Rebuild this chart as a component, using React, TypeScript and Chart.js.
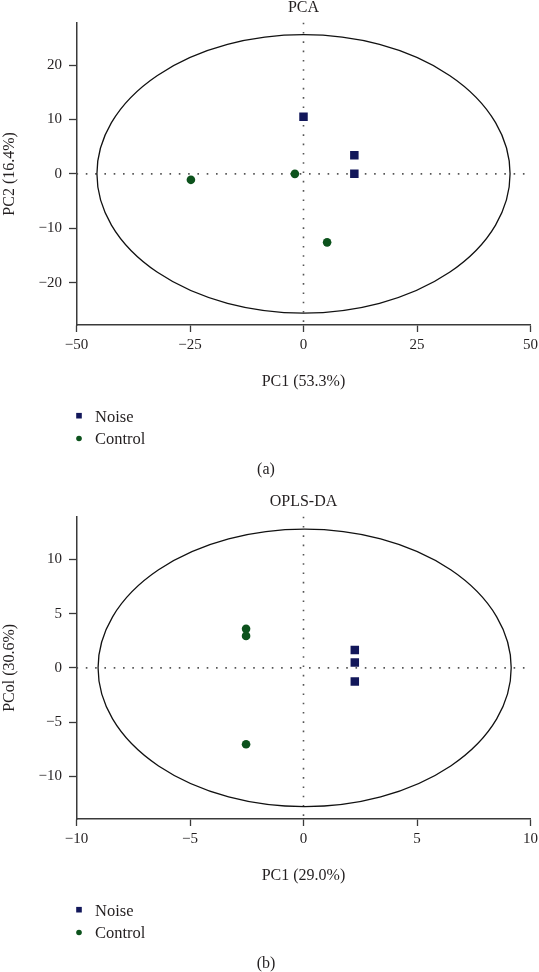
import React, { useEffect, useRef } from 'react';
import { Chart, registerables } from 'chart.js';

Chart.register(...registerables);

// ---------- data: panel (a) PCA ----------
const pcaTitle = 'PCA';
const pcaXLabel = 'PC1 (53.3%)';
const pcaYLabel = 'PC2 (16.4%)';
const pcaCaption = '(a)';
const pcaNoiseX = [0, 11.2, 11.2];
const pcaNoiseY = [10.5, 3.4, 0];
const pcaControlX = [-24.8, -1.9, 5.2];
const pcaControlY = [-1.1, 0, -12.6];
const pcaXMin = -50;
const pcaXMax = 50;
const pcaXStep = 25;
const pcaYMin = -27.8;
const pcaYMax = 27.8;
const pcaYStep = 10;
const pcaEllipseCenter = [0, 0];
const pcaEllipseRadii = [45.5, 25.6];

// ---------- data: panel (b) OPLS-DA ----------
const oplsTitle = 'OPLS-DA';
const oplsXLabel = 'PC1 (29.0%)';
const oplsYLabel = 'PCol (30.6%)';
const oplsCaption = '(b)';
const oplsNoiseX = [2.26, 2.26, 2.26];
const oplsNoiseY = [1.65, 0.49, -1.26];
const oplsControlX = [-2.53, -2.53, -2.53];
const oplsControlY = [3.6, 2.95, -7.05];
const oplsXMin = -10;
const oplsXMax = 10;
const oplsXStep = 5;
const oplsYMin = -13.95;
const oplsYMax = 13.95;
const oplsYStep = 5;
const oplsEllipseCenter = [0.05, 0];
const oplsEllipseRadii = [9.1, 12.8];

const seriesLabels = ['Noise', 'Control'];

// ---------- styles ----------
const FONT = "'Liberation Serif', 'Times New Roman', serif";
const TEXT = '#231f20';
const AXIS = '#3a3a3a';
const NOISE_COLOR = '#12175a';
const CONTROL_COLOR = '#0c521c';
const W = 539;
const H = 478;

const fmt = (v: any) => {
  const n = Number(v);
  return n < 0 ? '\u2212' + Math.abs(n) : String(n);
};

const decorPlugin = {
  id: 'decor',
  beforeDatasetsDraw(chart: any, _args: any, opts: any) {
    const { ctx, chartArea: a, scales } = chart;
    const x = scales.x;
    const y = scales.y;
    ctx.save();
    // dotted zero lines
    ctx.setLineDash([1.6, 7.7]);
    ctx.lineWidth = 1.6;
    ctx.strokeStyle = '#555';
    const x0 = x.getPixelForValue(0);
    const y0 = y.getPixelForValue(0);
    ctx.beginPath();
    ctx.moveTo(x0, a.top);
    ctx.lineTo(x0, a.bottom);
    ctx.stroke();
    ctx.beginPath();
    ctx.moveTo(a.left, y0);
    ctx.lineTo(a.right, y0);
    ctx.stroke();
    ctx.setLineDash([]);
    // confidence ellipse
    const [cx, cy] = opts.center;
    const [rx, ry] = opts.radii;
    const px = x.getPixelForValue(cx);
    const py = y.getPixelForValue(cy);
    const prx = Math.abs(x.getPixelForValue(cx + rx) - px);
    const pry = Math.abs(y.getPixelForValue(cy + ry) - py);
    ctx.beginPath();
    ctx.ellipse(px, py, prx, pry, 0, 0, Math.PI * 2);
    ctx.lineWidth = 1.3;
    ctx.strokeStyle = '#111';
    ctx.stroke();
    ctx.restore();
  },
  afterDraw(chart: any, _args: any, opts: any) {
    const { ctx, chartArea: a } = chart;
    ctx.save();
    ctx.fillStyle = TEXT;
    ctx.textBaseline = 'alphabetic';
    // title
    ctx.font = `16px ${FONT}`;
    ctx.textAlign = 'center';
    ctx.fillText(opts.title, (a.left + a.right) / 2, 12);
    // legend
    ctx.textAlign = 'left';
    ctx.font = `16.5px ${FONT}`;
    const baselines = [421.5, 444.3];
    chart.data.datasets.forEach((ds: any, i: number) => {
      const by = baselines[i];
      const my = by - 5.8;
      const mx = 79;
      ctx.fillStyle = ds.backgroundColor;
      if (ds.pointStyle === 'rect') {
        ctx.fillRect(mx - 2.8, my - 2.8, 5.6, 5.6);
      } else {
        ctx.beginPath();
        ctx.arc(mx, my, 2.8, 0, Math.PI * 2);
        ctx.fill();
      }
      ctx.fillStyle = TEXT;
      ctx.fillText(ds.label, 95, by);
    });
    // caption
    ctx.textAlign = 'center';
    ctx.font = `16px ${FONT}`;
    ctx.fillText(opts.caption, 266, 474);
    ctx.restore();
  },
};

type PanelCfg = {
  title: string;
  xLabel: string;
  yLabel: string;
  caption: string;
  noiseX: number[];
  noiseY: number[];
  controlX: number[];
  controlY: number[];
  xMin: number;
  xMax: number;
  xStep: number;
  yMin: number;
  yMax: number;
  yStep: number;
  center: number[];
  radii: number[];
};

function Panel({ cfg, top }: { cfg: PanelCfg; top: number }) {
  const ref = useRef<HTMLCanvasElement>(null);
  useEffect(() => {
    if (!ref.current) return;
    const noise = cfg.noiseX.map((v, i) => ({ x: v, y: cfg.noiseY[i] }));
    const control = cfg.controlX.map((v, i) => ({ x: v, y: cfg.controlY[i] }));
    const tickFont = { family: FONT, size: 15 };
    const titleFont = { family: FONT, size: 16 };
    const chart = new Chart(ref.current, {
      type: 'scatter',
      data: {
        datasets: [
          {
            label: seriesLabels[0],
            data: noise,
            pointStyle: 'rect',
            pointRadius: 6,
            pointHoverRadius: 6,
            backgroundColor: NOISE_COLOR,
            borderColor: NOISE_COLOR,
            pointBorderWidth: 0,
          },
          {
            label: seriesLabels[1],
            data: control,
            pointStyle: 'circle',
            pointRadius: 4.3,
            pointHoverRadius: 4.3,
            backgroundColor: CONTROL_COLOR,
            borderColor: CONTROL_COLOR,
            pointBorderWidth: 0,
          },
        ],
      } as any,
      options: {
        responsive: false,
        animation: false,
        events: [],
        layout: { padding: { top: 22.7, left: 0, right: 8.5, bottom: H - 325 - 66.2 } },
        plugins: {
          legend: { display: false },
          tooltip: { enabled: false },
          title: { display: false },
          decor: { title: cfg.title, caption: cfg.caption, center: cfg.center, radii: cfg.radii },
        } as any,
        scales: {
          x: {
            type: 'linear',
            position: 'bottom',
            min: cfg.xMin,
            max: cfg.xMax,
            ticks: {
              stepSize: cfg.xStep,
              includeBounds: false,
              color: TEXT,
              font: tickFont,
              padding: 4.5,
              maxRotation: 0,
              autoSkip: false,
              callback: fmt,
            },
            grid: { display: true, drawOnChartArea: false, drawTicks: true, tickLength: 7, tickColor: AXIS, tickWidth: 1.3 },
            border: { display: true, color: AXIS, width: 1.5 },
            title: { display: true, text: cfg.xLabel, color: TEXT, font: titleFont, padding: 0 },
            afterFit: (s: any) => {
              s.height = 66.2;
              s.paddingLeft = 0;
              s.paddingRight = 0;
            },
          },
          y: {
            type: 'linear',
            position: 'left',
            min: cfg.yMin,
            max: cfg.yMax,
            ticks: {
              stepSize: cfg.yStep,
              includeBounds: false,
              color: TEXT,
              font: tickFont,
              padding: 7,
              autoSkip: false,
              callback: fmt,
            },
            grid: { display: true, drawOnChartArea: false, drawTicks: true, tickLength: 7.5, tickColor: AXIS, tickWidth: 1.3 },
            border: { display: true, color: AXIS, width: 1.5 },
            title: { display: true, text: cfg.yLabel, color: TEXT, font: titleFont, padding: 0 },
            afterFit: (s: any) => {
              s.width = 76.5;
              s.paddingTop = 0;
              s.paddingBottom = 0;
            },
          },
        } as any,
      },
      plugins: [decorPlugin as any],
    });
    return () => chart.destroy();
  }, [cfg]);
  return (
    <div style={{ position: 'absolute', left: 0, top, width: W, height: H }}>
      <canvas ref={ref} width={W} height={H} style={{ display: 'block', width: W, height: H }} />
    </div>
  );
}

const pcaCfg: PanelCfg = {
  title: pcaTitle,
  xLabel: pcaXLabel,
  yLabel: pcaYLabel,
  caption: pcaCaption,
  noiseX: pcaNoiseX,
  noiseY: pcaNoiseY,
  controlX: pcaControlX,
  controlY: pcaControlY,
  xMin: pcaXMin,
  xMax: pcaXMax,
  xStep: pcaXStep,
  yMin: pcaYMin,
  yMax: pcaYMax,
  yStep: pcaYStep,
  center: pcaEllipseCenter,
  radii: pcaEllipseRadii,
};

const oplsCfg: PanelCfg = {
  title: oplsTitle,
  xLabel: oplsXLabel,
  yLabel: oplsYLabel,
  caption: oplsCaption,
  noiseX: oplsNoiseX,
  noiseY: oplsNoiseY,
  controlX: oplsControlX,
  controlY: oplsControlY,
  xMin: oplsXMin,
  xMax: oplsXMax,
  xStep: oplsXStep,
  yMin: oplsYMin,
  yMax: oplsYMax,
  yStep: oplsYStep,
  center: oplsEllipseCenter,
  radii: oplsEllipseRadii,
};

export default function App() {
  return (
    <div style={{ position: 'absolute', left: 0, top: 0, width: W, height: 972, background: '#fff', overflow: 'hidden' }}>
      <Panel cfg={pcaCfg} top={0} />
      <Panel cfg={oplsCfg} top={494} />
    </div>
  );
}
